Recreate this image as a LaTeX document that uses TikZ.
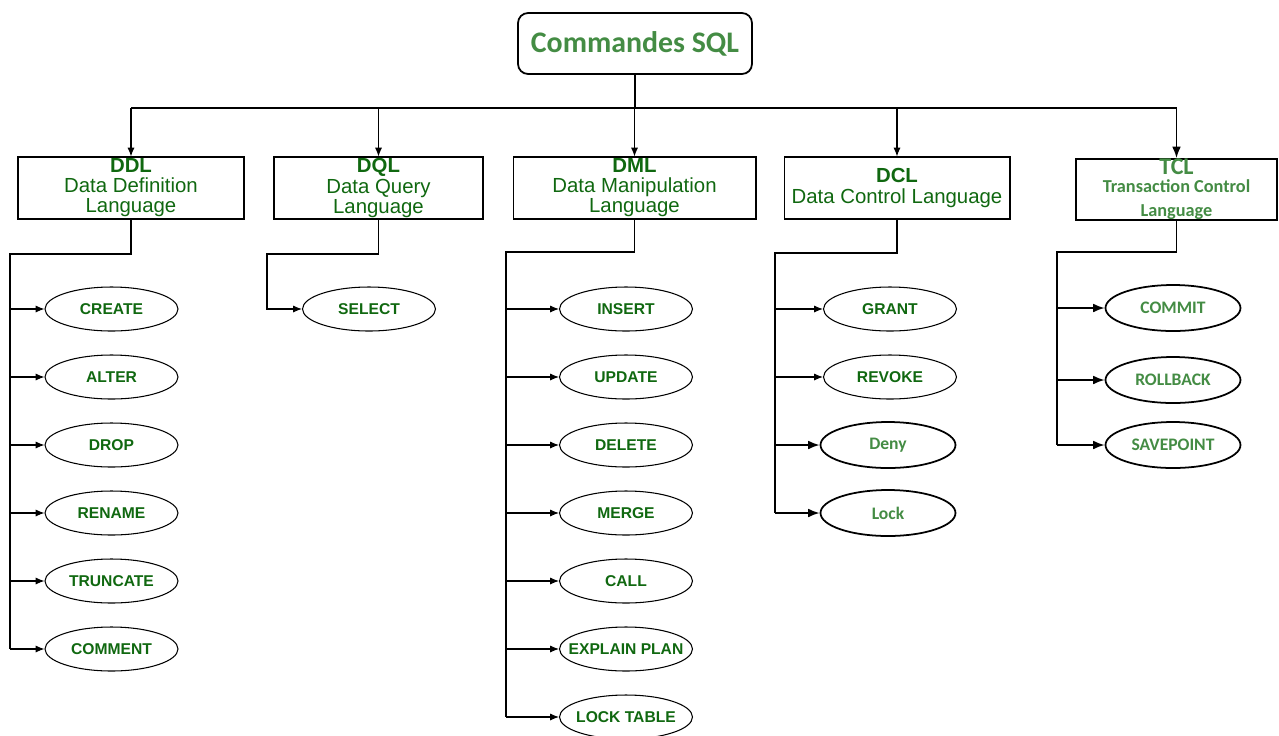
\documentclass[tikz,border=0pt]{standalone}
\usepackage{fontspec}
\setmainfont{Liberation Sans}
\newfontfamily\calibfont{Carlito}
\usetikzlibrary{shapes.geometric, arrows.meta, positioning}
\definecolor{sqlgreen}{RGB}{16,104,16}
\definecolor{calgreen}{RGB}{68,140,68}

\tikzset{
  titlebox/.style={draw, rounded corners=0.2cm, line width=1pt, minimum width=4.68cm, minimum height=1.22cm, font=\calibfont\bfseries\fontsize{17}{20}\selectfont, text=calgreen},
  langbox/.style={draw, minimum height=1.24cm, inner sep=0pt, align=center, font=\fontsize{11.6}{11.4}\selectfont, text=sqlgreen},
  cmd/.style={ellipse, draw, minimum width=2.66cm, minimum height=0.88cm, inner sep=0pt, font=\bfseries\fontsize{8.9}{10}\selectfont, text=sqlgreen},
  squeeze/.style={inner xsep=-0.22cm},
  plain/.style={},
  cmdc/.style={cmd, line width=1pt, minimum width=2.7cm, minimum height=0.92cm, font=\calibfont\bfseries\fontsize{10}{12}\selectfont, text=calgreen},
  tip/.style={-{Latex[length=5pt,width=4pt]}},
  bigtip/.style={line width=1pt, -{Latex[length=6.5pt,width=5pt]}}
}

\begin{document}
\begin{tikzpicture}[x=0.02cm, y=-0.02cm, line width=0.6pt]
  \useasboundingbox (0,0) rectangle (1279,735);

  % top
  \node[titlebox] (title) at (635,43.5) {Commandes SQL};
  \coordinate (bus) at (635,108);

  % languages
  \node[langbox, minimum width=4.52cm] (ddl) at (131,188) {\textbf{DDL}\\Data Definition\\Language};
  \node[langbox, minimum width=4.18cm] (dql) at (378.5,188) {\textbf{DQL}\\Data Query\\Language};
  \node[langbox, minimum width=4.86cm] (dml) at (634.5,188) {\textbf{DML}\\Data Manipulation\\Language};
  \node[langbox, minimum width=4.52cm] (dcl) at (897,188) {\textbf{DCL}\\Data Control Language};
  \node[langbox, line width=1pt, minimum width=4.02cm, minimum height=1.18cm, font=\calibfont\bfseries\fontsize{10.4}{10}\selectfont, text=calgreen] (tcl) at (1176.5,189.5)
    {{\fontsize{13.7}{11}\selectfont TCL}\\Transaction Control\\[4pt]Language};

  \draw (title.south) -- (bus);
  \draw (ddl.north |- bus) -- (tcl.north |- bus);
  \foreach \b in {ddl,dql,dml,dcl}
    \draw[tip] (\b.north |- bus) -- (\b.north);
  \draw[bigtip] (tcl.north |- bus) -- (tcl.north);

  % DDL
  \coordinate (ddlbus) at (10,254);
  \foreach \n/\t [count=\i from 0] in {create/CREATE,alter/ALTER,drop/DROP,rename/RENAME,truncate/TRUNCATE,comment/COMMENT}{
    \node[cmd] (\n) at (111.5,{309+68*\i}) {\t};
    \draw[tip] (\n.west -| ddlbus) -- (\n.west);
  }
  \draw (ddl.south) |- (ddlbus) -- (ddlbus |- comment.west);

  % DQL
  \coordinate (dqlbus) at (267,254);
  \node[cmd] (select) at (369,309) {SELECT};
  \draw[tip] (dql.south) |- (dqlbus) |- (select.west);

  % DML
  \coordinate (dmlbus) at (506,252);
  \foreach \n/\t/\s [count=\i from 0] in {insert/INSERT/plain,update/UPDATE/plain,delete/DELETE/plain,merge/MERGE/plain,call/CALL/plain,explain/EXPLAIN PLAN/squeeze,locktable/LOCK TABLE/squeeze}{
    \node[cmd, \s] (\n) at (626,{309+68*\i}) {\t};
    \draw[tip] (\n.west -| dmlbus) -- (\n.west);
  }
  \draw (dml.south) |- (dmlbus) -- (dmlbus |- locktable.west);

  % DCL
  \coordinate (dclbus) at (775,253);
  \node[cmd] (grant) at (890,309) {GRANT};
  \node[cmd] (revoke) at (890,377) {REVOKE};
  \node[cmdc] (deny) at (888,445) {Deny};
  \node[cmdc] (lock) at (888,513) {Lock};
  \draw (dcl.south) |- (dclbus) -- (dclbus |- lock.west);
  \foreach \n in {grant,revoke}
    \draw[tip] (\n.west -| dclbus) -- (\n.west);
  \foreach \n in {deny,lock}
    \draw[bigtip] (\n.west -| dclbus) -- (\n.west);

  % TCL
  \coordinate (tclbus) at (1057,252);
  \node[cmdc] (commit) at (1173,308) {COMMIT};
  \node[cmdc] (rollback) at (1173,380) {ROLLBACK};
  \node[cmdc] (savepoint) at (1173,445) {SAVEPOINT};
  \draw[line width=1pt] (tcl.south) |- (tclbus) -- (tclbus |- savepoint.west);
  \foreach \n in {commit,rollback,savepoint}
    \draw[bigtip] (\n.west -| tclbus) -- (\n.west);
\end{tikzpicture}
\end{document}
